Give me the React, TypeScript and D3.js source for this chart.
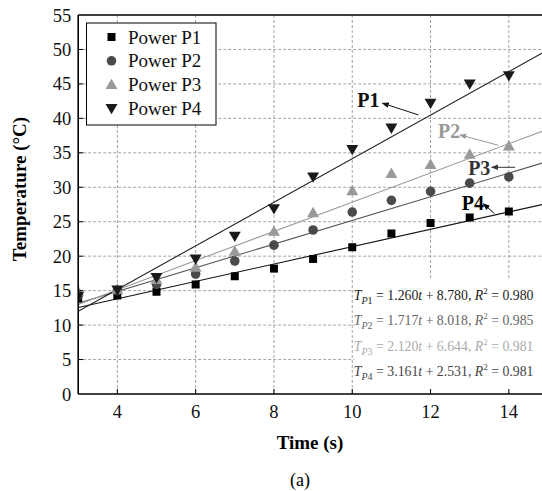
import React from 'react';
import * as d3 from 'd3';

const times = [3, 4, 5, 6, 7, 8, 9, 10, 11, 12, 13, 14];
const powerP1 = [13.9, 14.3, 14.85, 15.9, 17.1, 18.2, 19.6, 21.3, 23.3, 24.8, 25.6, 26.5];
const powerP2 = [14.3, 15.0, 15.9, 17.4, 19.3, 21.6, 23.8, 26.4, 28.1, 29.4, 30.6, 31.5];
const powerP3 = [14.9, 15.2, 16.6, 18.4, 20.7, 23.6, 26.3, 29.5, 32.0, 33.3, 34.8, 36.0];
const powerP4 = [14.2, 15.1, 16.9, 19.6, 22.9, 26.9, 31.5, 35.5, 38.6, 42.2, 45.0, 46.2];

const legendNames = ['Power P1', 'Power P2', 'Power P3', 'Power P4'];
const slopes = [1.26, 1.717, 2.12, 3.161];
const intercepts = [8.78, 8.018, 6.644, 2.531];
const rSquared = ['0.980', '0.985', '0.981', '0.981'];
const slopeText = ['1.260', '1.717', '2.120', '3.161'];
const interceptText = ['8.780', '8.018', '6.644', '2.531'];

const xTicks = [4, 6, 8, 10, 12, 14];
const yTicks = [0, 5, 10, 15, 20, 25, 30, 35, 40, 45, 50, 55];

// annotation labels: text position + arrow tail/head, in data units
const notes = [
  { label: 'P1', x: 10.13, y: 41.7, x1: 11.69, y1: 40.5, x2: 10.77, y2: 42.2, color: '#111' },
  { label: 'P2', x: 12.19, y: 37.1, x1: 13.73, y1: 36.1, x2: 12.75, y2: 37.6, color: '#999' },
  { label: 'P3', x: 12.96, y: 31.8, x1: 14.16, y1: 32.9, x2: 13.56, y2: 32.9, color: '#333' },
  { label: 'P4', x: 12.8, y: 26.7, x1: 13.63, y1: 26.2, x2: 13.35, y2: 27.6, color: '#000' },
];

const series = [powerP1, powerP2, powerP3, powerP4];
const markColors = ['#000', '#4a4a4a', '#999', '#1a1a1a'];
const lineColors = ['#111', '#555', '#9a9a9a', '#222'];
const eqColors = ['#222', '#666', '#aaa', '#444'];

const W = 542;
const H = 491;
const serif = "'Liberation Serif', 'DejaVu Serif', serif";

const x = d3.scaleLinear().domain([3, 15]).range([78.2, 548]);
const y = d3.scaleLinear().domain([0, 55]).range([394, 15]);

const symbolPath = (i: number) => {
  if (i === 0) return d3.symbol(d3.symbolSquare, 64)() as string;
  if (i === 1) return d3.symbol(d3.symbolCircle, 72)() as string;
  return d3.symbol(d3.symbolTriangle, 62)() as string;
};

const Marker = ({ i, cx, cy }: { i: number; cx: number; cy: number }) => (
  <path
    d={symbolPath(i)}
    transform={`translate(${cx},${cy})${i === 3 ? ' rotate(180)' : ''}${i >= 2 ? ' translate(0,1)' : ''}`}
    fill={markColors[i]}
  />
);

export default function App() {
  const left = x(3);
  const right = W;
  const top = y(55);
  const bottom = y(0);

  return (
    <svg
      width={W}
      height={H}
      style={{ position: 'absolute', left: 0, top: 0, background: '#fff', fontFamily: serif }}
    >
      <defs>
        <clipPath id="plot">
          <rect x={left} y={top} width={right - left} height={bottom - top} />
        </clipPath>
        {notes.map((n, i) => (
          <marker key={i} id={`arr${i}`} viewBox="0 0 10 10" refX="9" refY="5"
            markerWidth="7" markerHeight="7" orient="auto-start-reverse" markerUnits="userSpaceOnUse">
            <path d="M0,1 L10,5 L0,9 z" fill={n.color} />
          </marker>
        ))}
      </defs>

      {/* grid */}
      <g stroke="#9a9a9a" strokeWidth={0.9} strokeDasharray="3,2">
        {yTicks.slice(1, -1).map((t) => (
          <line key={t} x1={left} x2={right} y1={y(t)} y2={y(t)} />
        ))}
        {xTicks.map((t) => (
          <line key={t} x1={x(t)} x2={x(t)} y1={top} y2={bottom} />
        ))}
      </g>

      {/* white box behind equations */}
      <rect x={x(10.05)} y={y(16.6)} width={W - x(10.05)} height={y(0.3) - y(16.6)} fill="#fff" />

      <g clipPath="url(#plot)">
        {slopes.map((s, i) => (
          <line key={i} x1={x(3)} y1={y(s * 3 + intercepts[i])} x2={x(15)} y2={y(s * 15 + intercepts[i])}
            stroke={lineColors[i]} strokeWidth={1.1} />
        ))}
        {series.map((vals, i) => (
          <g key={i}>
            {vals.map((v, j) => (
              <Marker key={j} i={i} cx={x(times[j])} cy={y(v)} />
            ))}
          </g>
        ))}
      </g>

      {/* annotations */}
      {notes.map((n, i) => (
        <g key={i}>
          <text x={x(n.x)} y={y(n.y)} fontSize={20} fontWeight="bold" fill={n.color}>{n.label}</text>
          <line x1={x(n.x1)} y1={y(n.y1)} x2={x(n.x2)} y2={y(n.y2)} stroke={n.color} strokeWidth={1}
            markerEnd={`url(#arr${i})`} />
        </g>
      ))}

      {/* equations */}
      {slopes.map((_, i) => (
        <text key={i} x={x(10.04)} y={y(13.65) + i * 25.5} fontSize={13.8} fill={eqColors[i]}>
          <tspan fontStyle="italic">T</tspan>
          <tspan fontStyle="italic" fontSize={10} dy={4}>P</tspan>
          <tspan fontSize={10}>{i + 1}</tspan>
          <tspan dy={-4}>{` = ${slopeText[i]}`}</tspan>
          <tspan fontStyle="italic">t</tspan>
          <tspan>{` + ${interceptText[i]}, `}</tspan>
          <tspan fontStyle="italic">R</tspan>
          <tspan fontSize={9} dy={-6}>2</tspan>
          <tspan dy={6}>{` = ${rSquared[i]}`}</tspan>
        </text>
      ))}

      {/* frame + ticks */}
      <g stroke="#000" strokeWidth={1.6} fill="none">
        <line x1={left} x2={right} y1={top} y2={top} strokeWidth={1.3} />
        <line x1={left} x2={left} y1={top} y2={bottom} />
        <line x1={left} x2={right} y1={bottom} y2={bottom} />
        {yTicks.slice(1, -1).map((t) => (
          <line key={t} x1={left} x2={left + 5} y1={y(t)} y2={y(t)} strokeWidth={1} />
        ))}
        {xTicks.map((t) => (
          <line key={t} x1={x(t)} x2={x(t)} y1={bottom} y2={bottom - 5} strokeWidth={1} />
        ))}
      </g>

      {/* tick labels */}
      <g fontSize={18.5} fill="#111">
        {yTicks.map((t) => (
          <text key={t} x={left - 7} y={y(t) + 6.5} textAnchor="end">{t}</text>
        ))}
        {xTicks.map((t) => (
          <text key={t} x={x(t)} y={bottom + 24} textAnchor="middle">{t}</text>
        ))}
      </g>

      <text x={310} y={449} textAnchor="middle" fontSize={19} fontWeight="bold">Time (s)</text>
      <text transform="translate(26,189) rotate(-90)" textAnchor="middle" fontSize={19} fontWeight="bold">
        Temperature (°C)
      </text>
      <text x={300} y={486} textAnchor="middle" fontSize={18}>(a)</text>

      {/* legend */}
      <g>
        <rect x={86.5} y={23} width={129.5} height={102} fill="#fff" stroke="#000" strokeWidth={1} />
        {legendNames.map((name, i) => (
          <g key={name}>
            <Marker i={i} cx={111.5} cy={37 + i * 23.8} />
            <text x={128} y={43.5 + i * 23.8} fontSize={19} fill="#111">{name}</text>
          </g>
        ))}
      </g>
    </svg>
  );
}
